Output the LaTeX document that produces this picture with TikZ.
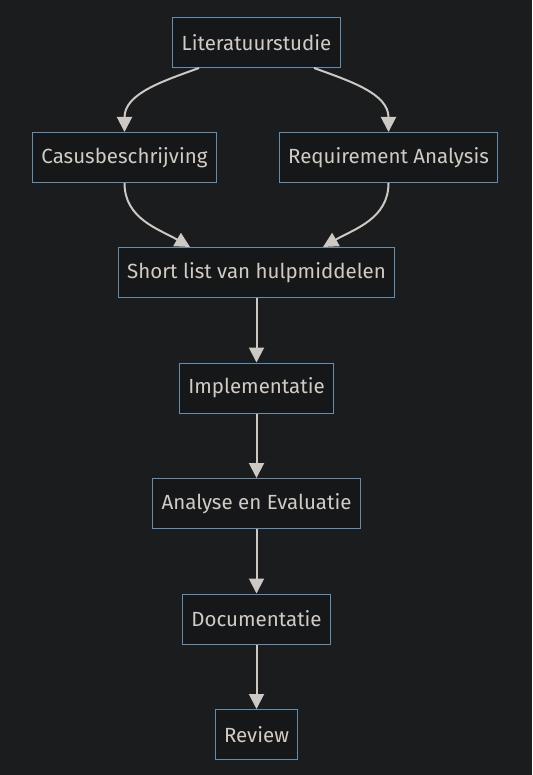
\documentclass[tikz,border=0pt]{standalone}
\usepackage{fontspec}
\setmainfont{Fira Sans}
\usetikzlibrary{arrows.meta,positioning}
\definecolor{pagebg}{RGB}{27,28,30}
\definecolor{boxfill}{RGB}{22,23,25}
\definecolor{boxborder}{RGB}{98,142,178}
\definecolor{linegray}{RGB}{205,200,193}
\definecolor{textlight}{RGB}{208,203,196}

\begin{document}
\begin{tikzpicture}[
  font=\fontsize{20.5}{24}\selectfont,
  >={Triangle[length=15pt,width=15pt]},
  stepbox/.style={
    rectangle,
    draw=boxborder,
    line width=1pt,
    fill=boxfill,
    text=textlight,
    minimum height=50pt,
    inner xsep=9pt
  },
  arrow/.style={->, line width=2pt, draw=linegray}
]

\fill[pagebg] (0,0) rectangle (532pt,-775pt);
\useasboundingbox (0,0) rectangle (532pt,-775pt);

\node[stepbox] (lit) at (256.5pt,-42.5pt) {Literatuurstudie};

\node[stepbox, below=64pt of lit, xshift=-132pt] (casus) {Casusbeschrijving};
\node[stepbox, below=64pt of lit, xshift=132pt] (req) {Requirement Analysis};

\node[stepbox, below=179pt of lit] (shortlist) {Short list van hulpmiddelen};
\node[stepbox, below=64.5pt of shortlist] (impl) {Implementatie};
\node[stepbox, below=64.5pt of impl] (analyse) {Analyse en Evaluatie};
\node[stepbox, below=64.5pt of analyse] (docu) {Documentatie};
\node[stepbox, below=64.5pt of docu] (review) {Review};

\draw[arrow] ([xshift=-57.5pt]lit.south) to[out=200, in=90] (casus.north);
\draw[arrow] ([xshift=57.5pt]lit.south) to[out=-20, in=90] (req.north);
\draw[arrow] (casus.south) to[out=-90, in=150] ([xshift=-66.5pt]shortlist.north);
\draw[arrow] (req.south) to[out=-90, in=30] ([xshift=66.5pt]shortlist.north);
\draw[arrow] (shortlist.south) -- (impl.north);
\draw[arrow] (impl.south) -- (analyse.north);
\draw[arrow] (analyse.south) -- (docu.north);
\draw[arrow] (docu.south) -- (review.north);

\end{tikzpicture}
\end{document}
